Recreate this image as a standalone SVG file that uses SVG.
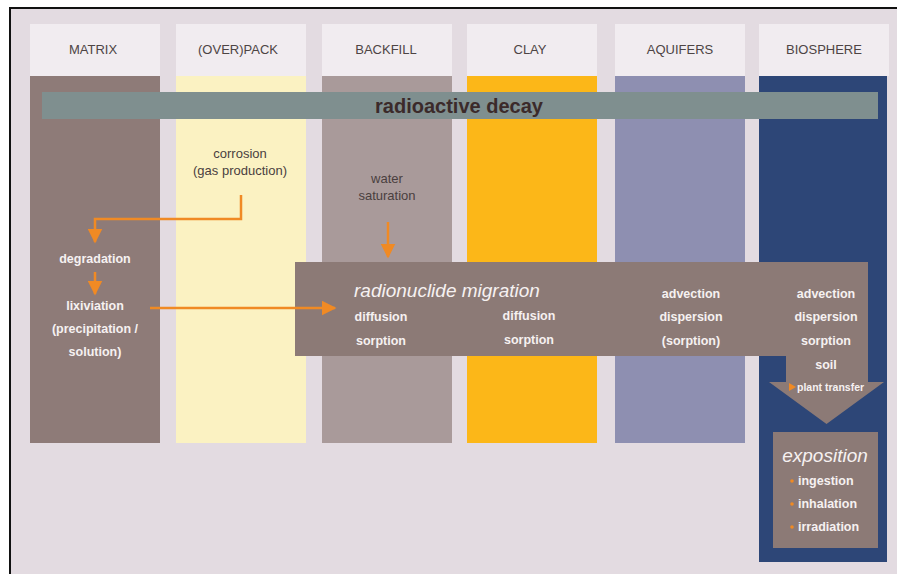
<svg xmlns="http://www.w3.org/2000/svg" width="897" height="574" viewBox="0 0 897 574">
<defs>
<style>
.hdr{fill:#f1ecf0}
.htxt{font-family:"Liberation Sans",Arial,sans-serif;font-size:13px;fill:#4d4444;text-anchor:middle}
.dtxt{font-family:"Liberation Sans",Arial,sans-serif;font-size:13px;fill:#4a3f3f;text-anchor:middle}
.wb{font-family:"Liberation Sans",Arial,sans-serif;font-size:12.5px;font-weight:bold;fill:#f6f1f1;text-anchor:middle}
.wl{font-family:"Liberation Sans",Arial,sans-serif;font-size:12.5px;font-weight:bold;fill:#f6f1f1;text-anchor:start}
.wi{font-family:"Liberation Sans",Arial,sans-serif;font-style:italic;fill:#f6f1f1}
.con{fill:none;stroke:#f08a24;stroke-width:2.5}
.mig{fill:#8c7a76}
</style>
<marker id="ah" viewBox="0 0 10 10" refX="9" refY="5" markerWidth="6" markerHeight="6" orient="auto" markerUnits="strokeWidth">
<path d="M0,0 L10,5 L0,10 z" fill="#f08a24"/>
</marker>
</defs>
<rect x="0" y="0" width="897" height="574" fill="#ffffff"/>
<rect x="10" y="8" width="890" height="570" fill="#e3dbe1" stroke="#111" stroke-width="2"/>

<g id="col-matrix">
<rect class="hdr" x="30" y="24" width="130" height="52"/>
<text class="htxt" x="93" y="54">MATRIX</text>
<rect x="30" y="76" width="130" height="367" fill="#8e7b78"/>
</g>
<g id="col-overpack">
<rect class="hdr" x="176" y="24" width="130" height="52"/>
<text class="htxt" x="238" y="54">(OVER)PACK</text>
<rect x="176" y="76" width="130" height="367" fill="#fbf2c2"/>
</g>
<g id="col-backfill">
<rect class="hdr" x="322" y="24" width="130" height="52"/>
<text class="htxt" x="386" y="54">BACKFILL</text>
<rect x="322" y="76" width="130" height="367" fill="#a99a9a"/>
</g>
<g id="col-clay">
<rect class="hdr" x="467" y="24" width="130" height="52"/>
<text class="htxt" x="530" y="54">CLAY</text>
<rect x="467" y="76" width="130" height="367" fill="#fcb718"/>
</g>
<g id="col-aquifers">
<rect class="hdr" x="615" y="24" width="130" height="52"/>
<text class="htxt" x="680" y="54">AQUIFERS</text>
<rect x="615" y="76" width="130" height="367" fill="#8e8fb1"/>
</g>
<g id="col-biosphere">
<rect class="hdr" x="759" y="24" width="130" height="52"/>
<text class="htxt" x="824" y="54">BIOSPHERE</text>
<rect x="759" y="76" width="128" height="486" fill="#2d4677"/>
</g>

<g id="radioactive-decay">
<rect x="42" y="92" width="836" height="27" fill="#7f8f8f"/>
<text x="459" y="113" font-family="'Liberation Sans',Arial,sans-serif" font-size="20" font-weight="bold" fill="#3b2a2a" text-anchor="middle">radioactive decay</text>
</g>

<g id="corrosion">
<text class="dtxt" x="240" y="158">corrosion</text>
<text class="dtxt" x="240" y="175">(gas production)</text>
</g>
<g id="water-saturation">
<text class="dtxt" x="387" y="183">water</text>
<text class="dtxt" x="387" y="200">saturation</text>
</g>
<g id="degradation">
<text class="wb" x="95" y="263">degradation</text>
</g>
<g id="lixiviation">
<text class="wb" x="95" y="310">lixiviation</text>
<text class="wb" x="95" y="333">(precipitation /</text>
<text class="wb" x="95" y="356">solution)</text>
</g>

<g id="radionuclide-migration">
<path class="mig" d="M295,262 H868 V382 H884 L826.5,424 L769,382 H786 V356 H295 Z"/>
<text class="wi" x="354" y="297" font-size="19">radionuclide migration</text>
<text class="wb" x="381" y="321">diffusion</text>
<text class="wb" x="381" y="345">sorption</text>
<text class="wb" x="529" y="320">diffusion</text>
<text class="wb" x="529" y="344">sorption</text>
<text class="wb" x="691" y="298">advection</text>
<text class="wb" x="691" y="321">dispersion</text>
<text class="wb" x="691" y="345">(sorption)</text>
<text class="wb" x="826" y="298">advection</text>
<text class="wb" x="826" y="321">dispersion</text>
<text class="wb" x="826" y="345">sorption</text>
<text class="wb" x="826" y="369">soil</text>
<path d="M789,383 L796,387 L789,391 Z" fill="#f08a24"/>
<text x="797" y="391" font-family="'Liberation Sans',Arial,sans-serif" font-size="10.5" font-weight="bold" fill="#f6f1f1">plant transfer</text>
</g>

<g id="exposition">
<rect class="mig" x="773" y="432" width="105" height="116"/>
<text class="wi" x="825" y="462" font-size="19" text-anchor="middle">exposition</text>
<circle cx="792" cy="481" r="1.8" fill="#f08a24"/>
<text class="wl" x="798" y="485">ingestion</text>
<circle cx="792" cy="504" r="1.8" fill="#f08a24"/>
<text class="wl" x="798" y="508">inhalation</text>
<circle cx="792" cy="527" r="1.8" fill="#f08a24"/>
<text class="wl" x="798" y="531">irradiation</text>
</g>

<g id="connectors">
<path class="con" d="M241,195 V219 H95 V242" marker-end="url(#ah)"/>
<path class="con" d="M95,272 V294" marker-end="url(#ah)"/>
<path class="con" d="M150,308 H335" marker-end="url(#ah)"/>
<path class="con" d="M388,222 V257" marker-end="url(#ah)"/>
</g>
</svg>
